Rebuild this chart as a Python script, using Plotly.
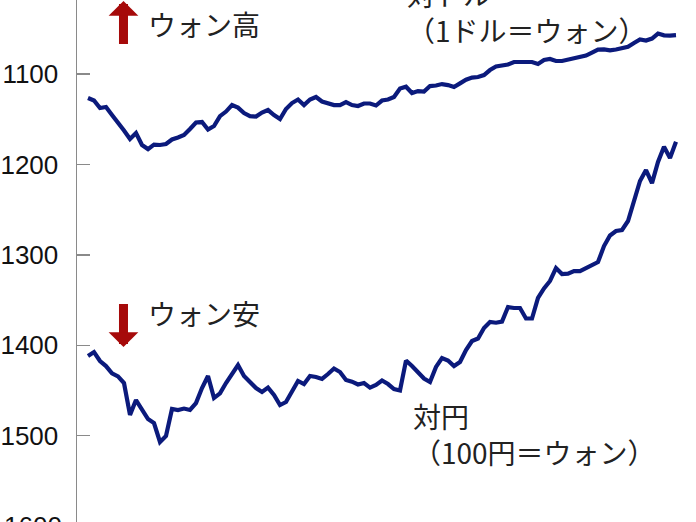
import plotly.graph_objects as go

# Trading-day index (evenly spaced) and exchange rates
usd_krw = [1126.5, 1129.3, 1137.6, 1136.5, 1145.3, 1153.1, 1162.5, 1171.9, 1165.3, 1178.5,
           1183.0, 1178.0, 1178.5, 1177.4, 1172.4, 1170.2, 1167.5, 1160.8, 1153.6, 1153.1,
           1161.4, 1157.5, 1146.5, 1141.5, 1134.3, 1137.1, 1143.1, 1146.5, 1147.0, 1142.6,
           1139.8, 1145.3, 1149.8, 1138.7, 1132.1, 1128.2, 1134.3, 1128.2, 1125.4, 1130.4,
           1132.1, 1134.3, 1134.3, 1131.0, 1134.3, 1135.4, 1132.6, 1132.6, 1134.8, 1129.3,
           1128.2, 1125.4, 1116.0, 1114.0, 1121.0, 1118.8, 1119.4, 1113.3, 1112.7, 1111.1,
           1112.2, 1114.4, 1110.3, 1106.3, 1103.9, 1103.3, 1101.1, 1095.6, 1091.7, 1090.4,
           1089.5, 1086.7, 1086.7, 1086.5, 1086.7, 1088.9, 1084.5, 1083.4, 1085.6, 1085.6,
           1084.0, 1083.4, 1081.2, 1079.5, 1076.2, 1072.9, 1072.7, 1073.8, 1072.9, 1071.2,
           1069.9, 1065.7, 1061.8, 1062.9, 1060.7, 1055.2, 1057.2, 1057.4, 1056.9]

jpy100_krw = [1411.9, 1407.5, 1417.4, 1423.0, 1431.0, 1434.4, 1441.8, 1477.0, 1460.6, 1471.6,
              1481.6, 1486.0, 1507.0, 1500.4, 1470.5, 1471.6, 1470.0, 1471.6, 1463.9, 1447.3,
              1434.0, 1458.3, 1453.2, 1441.8, 1430.7, 1421.8, 1434.0, 1440.3, 1447.3, 1451.7,
              1446.8, 1455.0, 1466.1, 1462.8, 1451.7, 1439.5, 1442.9, 1434.0, 1435.1, 1437.3,
              1431.8, 1425.7, 1429.6, 1438.4, 1440.3, 1443.4, 1441.8, 1446.8, 1443.8, 1439.0,
              1442.9, 1448.4, 1450.0, 1416.9, 1423.0, 1430.7, 1436.8, 1440.6, 1424.0, 1414.1,
              1416.9, 1423.0, 1418.5, 1405.3, 1395.3, 1392.6, 1380.9, 1374.3, 1375.1, 1373.8,
              1357.7, 1358.8, 1358.8, 1370.4, 1370.4, 1347.7, 1337.2, 1328.9, 1314.6, 1321.2,
              1320.7, 1317.9, 1317.9, 1314.6, 1311.8, 1308.0, 1290.3, 1278.6, 1273.6, 1272.5,
              1262.6, 1239.4, 1218.3, 1206.2, 1220.6, 1197.3, 1180.4, 1192.9, 1174.9]

days = list(range(len(usd_krw)))

tick_vals = [1100, 1200, 1300, 1400, 1500]
tick_text = ["1100", "1200", "1300", "1400", "1500"]
cut_tick = 1600  # partially visible label at the bottom edge

y_range = [1595.5, 1018.1]   # reversed: weaker won at the bottom
x_range = [-1.833, 101.333]

LINE = "#0b1a7c"
ARROW = "#a60a0a"
TXT = "#222222"
JP = "Noto Sans CJK JP"
JP_SIZE = 28

fig = go.Figure()
for vals in (usd_krw, jpy100_krw):
    fig.add_trace(go.Scatter(x=days, y=vals, mode="lines",
                             line=dict(color=LINE, width=4.2),
                             hoverinfo="skip", showlegend=False))

def frac(v):
    return (v - y_range[0]) / (y_range[1] - y_range[0])

ann = []
# partially visible 1600 tick label
ann.append(dict(xref="paper", yref="paper", x=0, y=frac(cut_tick), xanchor="right",
                yanchor="middle", xshift=-13, showarrow=False, text=str(cut_tick),
                font=dict(family="Liberation Sans, Arial", size=26, color="#111111")))
# arrows
ann.append(dict(xref="paper", yref="paper", x=0.0751, y=1 - 1 / 522, ax=0, ay=45,
                text=" ", font=dict(size=1), showarrow=True, arrowhead=1,
                arrowsize=0.55, arrowwidth=9, arrowcolor=ARROW))
ann.append(dict(xref="paper", yref="paper", x=0.0751, y=1 - 347 / 522, ax=0, ay=-45,
                text=" ", font=dict(size=1), showarrow=True, arrowhead=1,
                arrowsize=0.55, arrowwidth=9, arrowcolor=ARROW))

def label(text, px, py):
    return dict(xref="paper", yref="paper", x=(px - 77) / 619, y=1 - py / 522,
                xanchor="left", yanchor="middle", align="left", showarrow=False,
                text=text, font=dict(family=JP, size=JP_SIZE, color=TXT))

ann.append(label("ウォン高", 146, 24))
ann.append(label("ウォン安", 146, 313))
ann.append(label("対ドル<br>（1ドル＝ウォン）", 405, 12))
ann.append(label("対円<br>（100円＝ウォン）", 411, 434))

fig.update_layout(
    width=696, height=522,
    margin=dict(l=77, r=0, t=0, b=0),
    paper_bgcolor="white", plot_bgcolor="white",
    template="none",
    annotations=ann,
    xaxis=dict(range=x_range, visible=False, showgrid=False, zeroline=False),
    yaxis=dict(range=y_range, tickvals=tick_vals, ticktext=tick_text,
               showgrid=False, zeroline=False, showline=True,
               linecolor="#8a8a8a", linewidth=1.5,
               ticks="inside", ticklen=13, tickwidth=1.5, tickcolor="#8a8a8a",
               ticklabelstandoff=12, automargin=False,
               tickfont=dict(family="Liberation Sans, Arial", size=26, color="#111111")),
)

fig.write_html("out.html", config={"displayModeBar": False, "staticPlot": True},
               post_script="document.body.style.margin='0';document.body.style.overflow='hidden';")
